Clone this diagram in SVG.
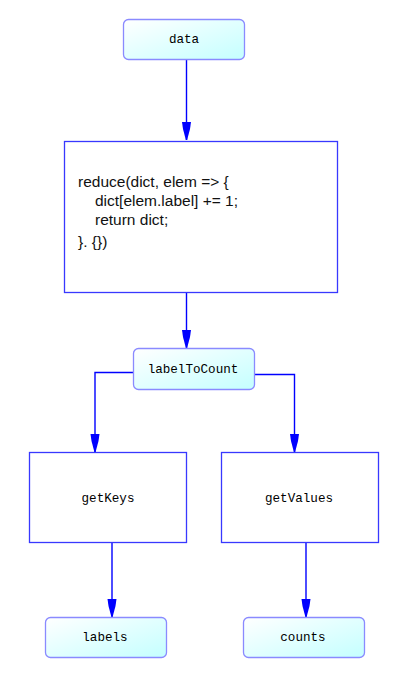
<svg xmlns="http://www.w3.org/2000/svg" width="407" height="684" viewBox="0 0 407 684">
<defs>
<linearGradient id="g" x1="0" y1="0" x2="1" y2="1">
<stop offset="0" stop-color="#ffffff"/>
<stop offset="1" stop-color="#c4ffff"/>
</linearGradient>
<marker id="ah" markerUnits="userSpaceOnUse" markerWidth="20" markerHeight="10" viewBox="-19 -5 20 10" refX="0" refY="0" orient="auto">
<polygon points="-18,-4.5 -18,4.5 -11,3.5 0,0.6 0,-0.6 -11,-3.5" fill="#0000ff"/>
</marker>
</defs>
<style>
.term{fill:url(#g);stroke:#8a8aff;stroke-width:1.3}
.proc{fill:#ffffff;stroke:#3838ff;stroke-width:1.3}
.lbl{font-family:"Liberation Mono","DejaVu Sans Mono",monospace;font-size:12.6px;fill:#000;text-anchor:middle}
.code{font-family:"Liberation Sans",Arial,sans-serif;font-size:15.5px;fill:#111}
.edge{fill:none;stroke:#0000ff;stroke-width:1.4}
</style>
<g id="connectors">
<path class="edge" d="M186.5,59 V140" marker-end="url(#ah)"/>
<path class="edge" d="M186.5,292 V348" marker-end="url(#ah)"/>
<path class="edge" d="M133,372.5 H95 V452" marker-end="url(#ah)"/>
<path class="edge" d="M255,374.5 H294.5 V452" marker-end="url(#ah)"/>
<path class="edge" d="M112,543 V617" marker-end="url(#ah)"/>
<path class="edge" d="M306,543 V617" marker-end="url(#ah)"/>
</g>
<g id="data">
<rect class="term" x="123.5" y="19.5" width="121" height="40" rx="5"/>
<text class="lbl" x="184" y="43">data</text>
</g>
<g id="reduce">
<rect class="proc" x="64.5" y="141.5" width="273" height="151"/>
<text class="code" x="78" y="187">reduce(dict, elem =&gt; {</text>
<text class="code" x="95" y="206">dict[elem.label] += 1;</text>
<text class="code" x="95" y="225">return dict;</text>
<text class="code" x="78" y="247">}. {})</text>
</g>
<g id="labelToCount">
<rect class="term" x="133.5" y="348.5" width="121" height="41" rx="5"/>
<text class="lbl" x="193" y="373">labelToCount</text>
</g>
<g id="getKeys">
<rect class="proc" x="29.5" y="452.5" width="157" height="90"/>
<text class="lbl" x="108" y="502">getKeys</text>
</g>
<g id="getValues">
<rect class="proc" x="221.5" y="452.5" width="157" height="90"/>
<text class="lbl" x="299" y="502">getValues</text>
</g>
<g id="labels">
<rect class="term" x="45.5" y="617.5" width="121" height="40" rx="5"/>
<text class="lbl" x="105" y="641">labels</text>
</g>
<g id="counts">
<rect class="term" x="243.5" y="617.5" width="121" height="40" rx="5"/>
<text class="lbl" x="303" y="641">counts</text>
</g>
</svg>
